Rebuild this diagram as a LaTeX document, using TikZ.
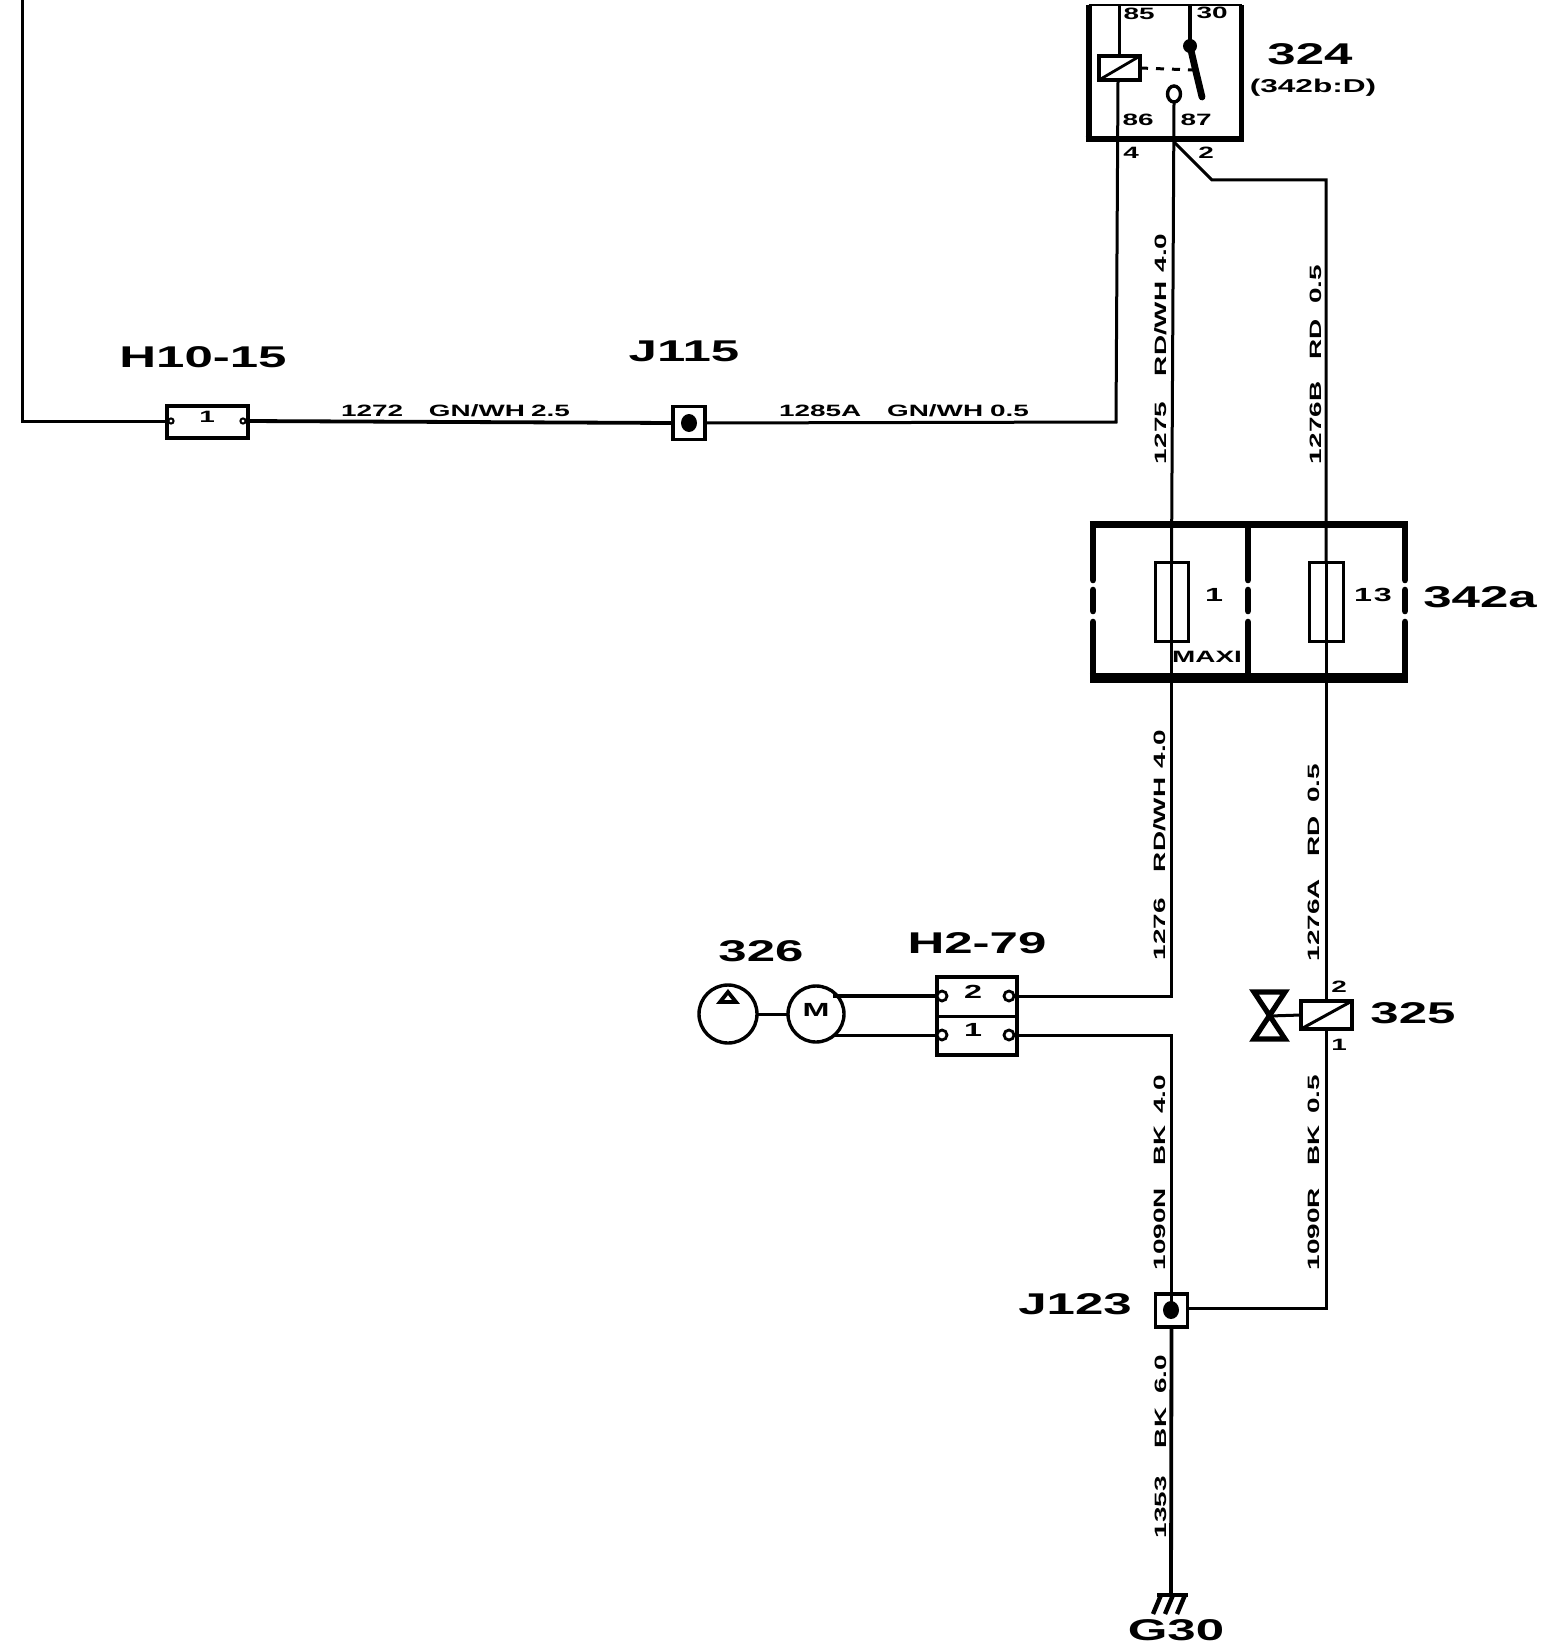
\documentclass[tikz,border=0pt]{standalone}
\usepackage{fontspec}
\usetikzlibrary{shapes.geometric}
\setmainfont{Liberation Sans}
\newfontfamily\widefont[FakeStretch=1.7]{Liberation Sans}
\newfontfamily\widebold[FakeStretch=1.7]{Liberation Sans Bold}
\begin{document}
\begin{tikzpicture}[x=0.5pt,y=-0.5pt,
  base/.style={inner sep=0pt,outer sep=0pt},
  title/.style={base,font=\widebold\fontsize{15}{15}\selectfont},
  tiny/.style={base,font=\widebold\fontsize{8.2}{8.2}\selectfont},
  tinyb/.style={base,font=\widebold\fontsize{8.2}{8.2}\selectfont},
  midlab/.style={base,font=\widebold\fontsize{9.5}{9.5}\selectfont},
  wirelab/.style={tinyb,rotate=90,anchor=west},
  horlab/.style={tinyb,anchor=west},
  wire/.style={line width=1.5pt},
  heavy/.style={line width=1.9pt},
  wall/.style={line width=3.3pt,line cap=round},
  box/.style={base,draw,line width=1.6pt,rectangle},
  term/.style={base,draw,circle,fill=white,line width=1.4pt,minimum size=5pt},
  smallterm/.style={base,draw,circle,fill=white,line width=1pt,minimum size=2.6pt},
  dotnode/.style={base,fill=black,ellipse,minimum width=8pt,minimum height=9pt},
  junction/.style={box,line width=1.8pt,minimum width=16pt,minimum height=16.5pt},
  machine/.style={base,draw,circle,line width=1.7pt}
]
\useasboundingbox (0,0) rectangle (1544,1648);
\fill[white] (0,0) rectangle (1544,1648);

% ---- relay 324
\node[base,minimum width=76.5pt,minimum height=67pt] (relay) at (1165,72) {};
\draw[line width=1pt] (relay.north west) -- (relay.north east);
\draw[line width=3pt] (relay.north west) -- (relay.south west);
\draw[line width=2.4pt] (relay.north east) -- (relay.south east);
\draw[line width=3pt] ([xshift=-1.5pt]relay.south west) -- ([xshift=1.2pt]relay.south east);
\coordinate (r85) at (1119,5);
\coordinate (r30) at (1190,5);
\coordinate (c86) at (1118,80);
\node[base,draw,line width=2pt,minimum width=20.5pt,minimum height=12pt] (coil) at (1119.5,68) {};
\draw[line width=1.4pt] (coil.south west) -- (coil.north east);
\draw[line width=1.5pt] (r85) -- (coil.north -| r85);
\node[base,fill=black,circle,minimum size=7pt] (pivot) at (1190,46) {};
\coordinate (swend) at (1202,97);
\draw[line width=2pt] (r30) -- (pivot.center);
\draw[line width=3.4pt,line cap=round] (pivot.center) -- (1196,72) -- (swend);
\draw[line width=1.5pt,dash pattern=on 4pt off 4pt] (coil.east) -- (1194,70);
\node[base,draw,ellipse,line width=1.7pt,minimum width=6.5pt,minimum height=8pt] (contact) at (1174,94) {};
\node[tiny] (t85) at (1139,14) {85};
\node[tiny] (t30) at (1212,13) {30};
\node[tiny] (t86) at (1138,120) {86};
\node[tiny] (t87) at (1196,120) {87};
\node[tinyb] (t4) at (1131,153) {4};
\node[tinyb] (t2) at (1206,153) {2};
\node[title] (n324) at (1310,54) {324};
\node[base,font=\widebold\fontsize{9.3}{9.3}\selectfont] (n342b) at (1313,88) {(342b:D)};

% ---- fuse box 342a
\node[base,minimum width=156pt,minimum height=77.5pt] (fb) at (1249,602) {};
\draw[line width=3.5pt] ([xshift=-1.6pt]fb.north west) -- ([xshift=1.6pt]fb.north east);
\draw[line width=5pt] ([xshift=-1.6pt,yshift=1pt]fb.south west) -- ([xshift=1.6pt,yshift=1pt]fb.south east);
\foreach \wx in {1093,1248,1405}{
  \draw[wall] (\wx,525) -- (\wx,580);
  \draw[wall] (\wx,590) -- (\wx,611);
  \draw[wall] (\wx,622) -- (\wx,678);
}
\node[base,draw,line width=1.5pt,minimum width=16.5pt,minimum height=39.5pt] (fuseA) at (1171.5,601.5) {};
\node[base,draw,line width=1.5pt,minimum width=17pt,minimum height=39.5pt] (fuseB) at (1326,601.5) {};
\node[midlab] (t1a) at (1214,595) {1};
\node[midlab] (t13) at (1373,595) {1\hspace{1pt}3};
\node[tinyb] (maxi) at (1207,657) {MAXI};
\node[title] (n342a) at (1480,597) {342a};

% ---- H10-15 and J115
\node[box,minimum width=40.5pt,minimum height=16pt] (h10) at (207.5,422) {};
\node[smallterm] (h10l) at (171,421) {};
\node[smallterm] (h10r) at (243,421) {};
\node[tinyb] (t1h) at (207,417) {1};
\node[title] (nh10) at (203,357) {H10-15};
\node[junction] (j115) at (689,423) {};
\node[dotnode] (d115) at (689,423) {};
\node[title] (nj115) at (684,351) {J115};
\coordinate (topL) at (22,0);
\draw[wire] (topL) |- (h10l.west);
\draw[heavy] (h10r.east) -- (j115.west);
\draw[wire] (j115.east) -- (1116,422) -- (c86);
\node[horlab] (l1272) at (341,411) {1272\hspace{13pt}GN/WH\hspace{3pt}2.5};
\node[horlab] (l1285) at (779,411) {1285A\hspace{13pt}GN/WH\hspace{3.5pt}0.5};

% ---- 326 pump + motor
\node[machine,minimum size=29pt] (pump) at (728,1014) {};
\node[machine,minimum size=28pt] (motor) at (816,1014) {};
\draw[line width=1.9pt,line join=miter] (720,1002) -- (736,1002) -- (728,992) -- cycle;
\node[midlab] (tM) at (816,1010) {M};
\draw[wire] (pump) -- (motor);
\node[title] (n326) at (761,951) {326};

% ---- H2-79
\node[box,minimum width=40pt,minimum height=39pt] (h2) at (977,1016) {};
\draw[line width=1.5pt] (h2.west) -- (h2.east);
\node[term] (a2) at (942,996) {};
\node[term] (a1) at (942,1035) {};
\node[term] (b2) at (1009,996) {};
\node[term] (b1) at (1009,1035) {};
\node[midlab] (t2h) at (973,992) {2};
\node[midlab] (t1h2) at (973,1030) {1};
\node[title] (nh2) at (977,943) {H2-79};
\draw[heavy] (a2.west) -- (a2.west -| motor.north east) -- ++(-3,0);
\draw[wire] (a1.west) -- (a1.west -| motor.south east) -- ++(-3,0);

% ---- 325 valve
\node[base,draw,line width=2.4pt,minimum width=25.5pt,minimum height=14pt] (sol) at (1326.5,1015) {};
\draw[line width=1.5pt] (sol.south west) -- (sol.north east);
\coordinate (bow) at (1269.5,1016);
\draw[line width=2.6pt,line join=miter] (1254,992) -- (1285,992) -- (1254,1039) -- (1285,1039) -- cycle;
\draw[wire] (bow) -- (sol.west);
\node[tinyb] (t2v) at (1339,987) {2};
\node[tinyb] (t1v) at (1339,1045) {1};
\node[title] (n325) at (1413,1013) {325};

% ---- J123 and ground
\node[junction] (j123) at (1171.5,1310.5) {};
\node[dotnode] (d123) at (1171,1310) {};
\node[title] (nj123) at (1075,1304) {J123};
\coordinate (gnd) at (1171,1594);
\coordinate (j123e) at ([yshift=1pt]j123.east);
\draw[line width=2.4pt] (1157,1595) -- (1188,1595);
\draw[line width=2.2pt] (1161,1595) -- (1153,1614);
\draw[line width=2.2pt] (1173,1595) -- (1165,1614);
\draw[line width=2.2pt] (1185,1595) -- (1177,1614);
\node[title] (g30) at (1176,1630) {G30};

% ---- vertical wires
\coordinate (kink) at (1174,142);
\draw[wire] (contact.south) -- (fuseA.north);
\draw[wire] (fuseA.north) -- (fuseA.south);
\draw[wire] (fuseA.south) -- (fuseA.south |- b2) -- (b2.east);
\draw[wire] (kink) -- (1212,180) -| (fuseB.north);
\draw[wire] (fuseB.north) -- (fuseB.south) -- (sol.north -| fuseB.south);
\draw[wire] (b1.east) -| (j123.north);
\draw[wire] (sol.south -| fuseB.south) |- (j123e);
\draw[heavy] (j123.south) -- (gnd);
\draw[wire] (j123.north) -- (j123.center);

% ---- wire labels
\node[wirelab] (l1275) at (1161,464) {1275\hspace{13pt}RD/WH\hspace{4.6pt}4.0};
\node[wirelab] (l1276b) at (1316,464) {1276B\hspace{11pt}RD\hspace{8pt}0.5};
\node[wirelab] (l1276) at (1160,960) {1276\hspace{13pt}RD/WH\hspace{4.6pt}4.0};
\node[wirelab] (l1276a) at (1314,961) {1276A\hspace{11pt}RD\hspace{7pt}0.5};
\node[wirelab] (l1090n) at (1160,1270) {1090N\hspace{11pt}BK\hspace{6pt}4.0};
\node[wirelab] (l1090r) at (1314,1270) {1090R\hspace{11pt}BK\hspace{6pt}0.5};
\node[wirelab] (l1353) at (1161,1538) {1353\hspace{14pt}BK\hspace{7pt}6.0};
\end{tikzpicture}
\end{document}
